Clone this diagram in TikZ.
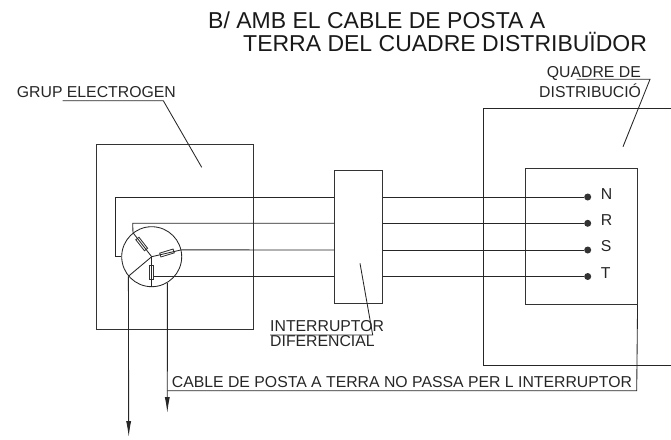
\documentclass[tikz,border=0pt]{standalone}
\usepackage{fontspec}
\setmainfont{Liberation Sans}
\usetikzlibrary{arrows.meta}
\tikzset{
  wire/.style={line width=0.85pt, color=black!85},
  caption/.style={anchor=base west, inner sep=0pt, font=\fontsize{15.8}{15.8}\selectfont, color=black!85},
  heading/.style={anchor=base west, inner sep=0pt, font=\fontsize{23}{23}\selectfont, color=black!90},
  boxnode/.style={draw=black!80, line width=0.85pt, inner sep=0pt, anchor=north west},
  resistor/.style={draw=black!80, line width=0.85pt, inner sep=0pt, minimum width=14pt, minimum height=4pt},
  terminal/.style={circle, fill=black!80, inner sep=0pt, minimum size=7pt},
  earth/.style={wire, -{Latex[length=16pt,width=5pt]}}
}
\begin{document}
\begin{tikzpicture}[x=1pt, y=-1pt]
        \useasboundingbox (0, 0) rectangle (671, 439);

        % Title
        \node[heading] (titleA) at (208, 28.7) {B/ AMB EL CABLE DE POSTA A};
        \node[heading] (titleB) at (243, 51.7) {TERRA DEL CUADRE DISTRIBUÏDOR};

        % Boxes
        \node[boxnode, minimum width=157pt, minimum height=185pt] (grup) at (96.3, 144) {};
        \node[boxnode, minimum width=47.7pt, minimum height=132.7pt] (intr) at (334, 170.3) {};
        \node[boxnode, minimum width=111.7pt, minimum height=136pt] (inner) at (525, 168.3) {};

        % Distribution board, open to the right
        \coordinate (outerNE) at (671, 108.3);
        \coordinate (outerNW) at (483.3, 108.3);
        \coordinate (outerSW) at (483.3, 365);
        \coordinate (outerSE) at (671, 365);
        \draw[wire] (outerNE) -- (outerNW) -- (outerSW) -- (outerSE);

        % Generator star
        \node[circle, draw=black!85, line width=0.85pt, inner sep=0pt, minimum size=60pt] (gen) at (151.7, 256.7) {};
        \node[resistor, rotate=-52] (resR) at (141.7, 244) {};
        \node[resistor, rotate=17] (resS) at (167, 253) {};
        \node[resistor, rotate=90] (resT) at (151.7, 272) {};
        \draw[wire] (gen.center) -- (gen.128);
        \draw[wire] (gen.center) -- (gen.13);
        \draw[wire] (gen.center) -- (gen.270);
        \draw[wire] (gen.center) -- (gen.220);

        % Terminals
        \node[terminal] (dotN) at (587.7, 197) {};
        \node[terminal] (dotR) at (587.7, 223.3) {};
        \node[terminal] (dotS) at (587.7, 250) {};
        \node[terminal] (dotT) at (587.7, 276.5) {};
        \node[caption] (labN) at (600.7, 199) {N};
        \node[caption] (labR) at (600.7, 225.7) {R};
        \node[caption] (labS) at (600.7, 251.7) {S};
        \node[caption] (labT) at (600.7, 278) {T};

        % Four wires through the breaker
        \coordinate (wireNa) at (115, 256.7);
        \coordinate (wireNb) at (115, 197);
        \coordinate (wireRb) at (132.7, 223.3);
        \coordinate (wireTa) at (153.7, 276.5);
        \draw[wire] (gen.180) -- (wireNa) -- (wireNb) -- (intr.west |- dotN);
        \draw[wire] (gen.128) -- (wireRb) -- (intr.west |- dotR);
        \draw[wire] (gen.13) -- (intr.west |- dotS);
        \draw[wire] (wireTa) -- (intr.west |- dotT);
        \draw[wire] (intr.east |- dotN) -- (dotN);
        \draw[wire] (intr.east |- dotR) -- (dotR);
        \draw[wire] (intr.east |- dotS) -- (dotS);
        \draw[wire] (intr.east |- dotT) -- (dotT);

        % Earth wires
        \coordinate (earthA) at (128.7, 437);
        \coordinate (earthB) at (167.3, 413);
        \coordinate (earthC) at (167.3, 390.7);
        \coordinate (earthD) at (636.7, 390.7);
        \draw[earth] (gen.220) -- (earthA);
        \draw[earth] (gen.301) -- (earthB);
        \draw[wire] (earthC) -- (earthD) -- (inner.south east);

        % Labels with their leaders
        \node[caption] (labGrup) at (16.7, 97.3) {GRUP ELECTROGEN};
        \coordinate (grupA) at (62.7, 100.7);
        \coordinate (grupB) at (163.3, 100.7);
        \coordinate (grupC) at (201.7, 167.3);
        \draw[wire] (grupA) -- (grupB) -- (grupC);

        \node[caption] (labQuadA) at (546.7, 77.3) {QUADRE DE};
        \node[caption] (labQuadB) at (539, 97.3) {DISTRIBUCIÓ};
        \coordinate (quadA) at (576.7, 79.3);
        \coordinate (quadB) at (650, 79.3);
        \coordinate (quadC) at (623, 146.7);
        \draw[wire] (quadA) -- (quadB) -- (quadC);

        \node[caption] (labIntA) at (270, 331.7) {INTERRUPTOR};
        \node[caption] (labIntB) at (270, 346.7) {DIFERENCIAL};
        \coordinate (intA) at (270, 335);
        \coordinate (intB) at (372.7, 335);
        \coordinate (intC) at (360, 263.3);
        \draw[wire] (intA) -- (intB) -- (intC);

        \node[caption] (labCable) at (171.7, 387.7) {CABLE DE POSTA A TERRA NO PASSA PER L INTERRUPTOR};
\end{tikzpicture}
\end{document}
